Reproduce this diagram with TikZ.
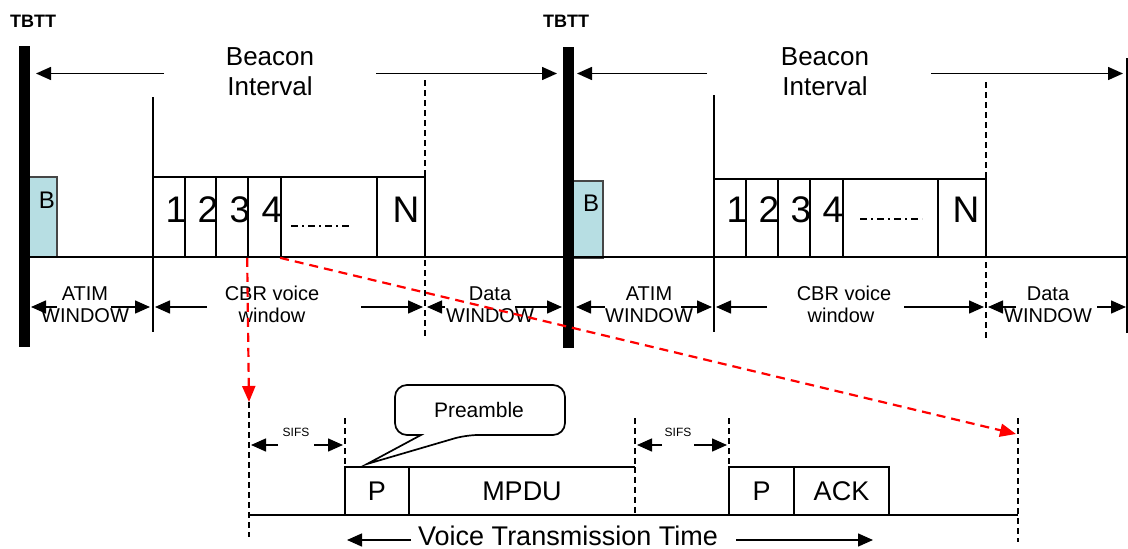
\documentclass[tikz,border=0pt]{standalone}
\usepackage{fontspec}
\setmainfont{Liberation Sans}
\usetikzlibrary{arrows.meta}
\definecolor{bfill}{RGB}{183,222,227}
\definecolor{bedge}{RGB}{70,70,70}
\newcommand\fsz[1]{\fontsize{#1}{#1}\selectfont}
\newcommand\mkbox[7]{\node[#1,minimum width={(#4)-(#3)},minimum height={(#6)-(#5)}] (#2) at ({((#3)+(#4))/2},{((#5)+(#6))/2}) {#7};}
\begin{document}
\begin{tikzpicture}[x=1pt,y=-1pt,
  tipa/.style={-{Triangle[length=15pt,width=13pt]}},
  ln/.style={line width=1.5pt},
  dsh/.style={line width=1.4pt,dash pattern=on 6pt off 4pt},
  rdash/.style={draw=red,line width=2.2pt,dash pattern=on 9pt off 6pt,-{Triangle[length=16pt,width=13pt]}},
  box/.style={draw,line width=1.7pt,inner sep=0pt},
  bbox/.style={draw=bedge,fill=bfill,line width=1.3pt,inner sep=0pt},
  barn/.style={fill=black,inner sep=0pt},
  txt/.style={inner sep=0pt,anchor=base},
  big/.style={font=\fsz{26}},
  lab/.style={font=\fsz{20}},
  dig/.style={font=\fsz{37}},
  low/.style={font=\fsz{27}},
  tbtt/.style={font=\fsz{18}\bfseries},
]
\useasboundingbox (0,0) rectangle (1128,549);

% ---------- beacon boxes
\mkbox{bbox}{b1}{26}{57}{177}{257}{}
\mkbox{bbox}{b2}{570}{603}{181}{258}{}
\node[txt,font=\fsz{24}] (bt1) at (47,208) {B};
\node[txt,font=\fsz{24}] (bt2) at (591,211) {B};

% ---------- slot boxes, set 1
\mkbox{box}{s11}{153}{185}{177}{257}{}
\mkbox{box}{s12}{185}{216}{177}{257}{}
\mkbox{box}{s13}{216}{248}{177}{257}{}
\mkbox{box}{s14}{248}{281}{177}{257}{}
\mkbox{box}{s15}{281}{377}{177}{257}{}
\mkbox{box}{s16}{377}{425}{177}{257}{}
\node[txt,dig] (d11) at (176,222) {1};
\node[txt,dig] (d12) at (208,222) {2};
\node[txt,dig] (d13) at (240,222) {3};
\node[txt,dig] (d14) at (272,222) {4};
\node[txt,dig] (d1n) at (406,222) {N};
\draw[line width=1.3pt,dash pattern=on 7pt off 4pt on 2pt off 4pt] (291,226) -- (350,226);

% ---------- slot boxes, set 2
\mkbox{box}{s21}{714}{746}{179}{257}{}
\mkbox{box}{s22}{746}{778}{179}{257}{}
\mkbox{box}{s23}{778}{810}{179}{257}{}
\mkbox{box}{s24}{810}{843}{179}{257}{}
\mkbox{box}{s25}{843}{938}{179}{257}{}
\mkbox{box}{s26}{938}{986}{179}{257}{}
\node[txt,dig] (d21) at (737,222) {1};
\node[txt,dig] (d22) at (769,222) {2};
\node[txt,dig] (d23) at (801,222) {3};
\node[txt,dig] (d24) at (833,222) {4};
\node[txt,dig] (d2n) at (966,222) {N};
\draw[line width=1.3pt,dash pattern=on 7pt off 4pt on 2pt off 4pt] (860,219) -- (922,219);

% ---------- time line and separators
\draw[line width=2pt] (30,257) -- (1128,257);
\draw[ln] (153,97) -- (153,332);
\draw[ln] (714,95) -- (714,332);
\draw[dsh] (425,80) -- (425,337);
\draw[dsh] (986,82) -- (986,340);
\draw[ln] (1127,58) -- (1127,333);

% ---------- TBTT bars
\mkbox{barn}{bar1}{19}{30}{46}{347}{}
\mkbox{barn}{bar2}{563}{574}{47}{348}{}
\node[txt,tbtt] (tb1) at (33,27) {TBTT};
\node[txt,tbtt] (tb2) at (566,27) {TBTT};

% ---------- Beacon Interval
\node[txt,big] (bi1a) at (270,65) {Beacon};
\node[txt,big] (bi1b) at (270,95) {Interval};
\node[txt,big] (bi2a) at (825,65) {Beacon};
\node[txt,big] (bi2b) at (825,95) {Interval};
\draw[ln,tipa] (164,73.5) -- (36,73.5);
\draw[ln,tipa] (376,73.5) -- (557,73.5);
\draw[ln,tipa] (707,73.5) -- (577,73.5);
\draw[ln,tipa] (931,73.5) -- (1123,73.5);

% ---------- window labels, set 1
\node[txt,lab] (at1) at (85,300) {ATIM};
\node[txt,lab] (aw1) at (85,322) {WINDOW};
\node[txt,lab] (cv1) at (272,300) {CBR voice};
\node[txt,lab] (cw1) at (272,322) {window};
\node[txt,lab] (dt1) at (490,300) {Data};
\node[txt,lab] (dw1) at (490,322) {WINDOW};
\draw[ln,tipa] (57,307) -- (31,307);
\draw[ln,tipa] (111,307) -- (150,307);
\draw[ln,tipa] (207,307) -- (155,307);
\draw[ln,tipa] (361,307) -- (423,307);
\draw[ln,tipa] (445,307) -- (427,307);
\draw[ln,tipa] (515,307) -- (562,307);

% ---------- window labels, set 2
\node[txt,lab] (at2) at (649,300) {ATIM};
\node[txt,lab] (aw2) at (649,322) {WINDOW};
\node[txt,lab] (cv2) at (844,300) {CBR voice};
\node[txt,lab] (cw2) at (841,322) {window};
\node[txt,lab] (dt2) at (1048,300) {Data};
\node[txt,lab] (dw2) at (1048,322) {WINDOW};
\draw[ln,tipa] (605,307) -- (576,307);
\draw[ln,tipa] (681,307) -- (712,307);
\draw[ln,tipa] (767,307) -- (716,307);
\draw[ln,tipa] (904,307) -- (984,307);
\draw[ln,tipa] (1016,307) -- (988,307);
\draw[ln,tipa] (1097,307) -- (1126,307);

% ---------- lower detail
\coordinate (v0t) at (249,402);
\coordinate (v0b) at (249,537);
\coordinate (v4t) at (1018,418);
\coordinate (v4b) at (1018,542);
\draw[dsh] (v0t) -- (v0b);
\draw[dsh] (v4t) -- (v4b);
\draw[dsh] (345,418) -- (345,467);
\draw[dsh] (635,418) -- (635,467);
\draw[dsh] (729,418) -- (729,467);

\mkbox{box,low}{p1}{345}{409}{467}{515}{P}
\mkbox{low,inner sep=0pt}{mpdu}{409}{635}{467}{515}{MPDU}
\draw[line width=1.7pt] (mpdu.north east) -- (mpdu.north west) -- (mpdu.south west) -- (mpdu.south east);
\draw[dsh,line width=1.7pt] (mpdu.north east) -- (mpdu.south east);
\mkbox{box,low}{p2}{729}{794}{467}{515}{P}
\mkbox{box,low}{ack}{794}{889}{467}{515}{ACK}
\draw[line width=2pt] (249,515) -- (1018,515);

\node[txt,font=\fsz{12}] (sifs1) at (296,436) {SIFS};
\node[txt,font=\fsz{12}] (sifs2) at (678,436) {SIFS};
\draw[ln,tipa] (278,445) -- (251,445);
\draw[ln,tipa] (314,445) -- (343,445);
\draw[ln,tipa] (662,445) -- (637,445);
\draw[ln,tipa] (694,445) -- (727,445);

\node[txt,low] (vtt) at (568,545) {Voice Transmission Time};
\draw[ln,tipa] (411,540) -- (347,540);
\draw[ln,tipa] (736,540) -- (873,540);

% ---------- callout
\draw[line width=1.7pt,fill=white,rounded corners=12pt] (421,435) -- (395,435) -- (395,385) -- (565,385) -- (565,435) -- (466,435) [sharp corners] -- (367,464) -- cycle;
\node[txt,font=\fsz{21}] (pre) at (479,417) {Preamble};

% ---------- red zoom lines
\draw[rdash] (s14.south west) -- (v0t);
\draw[rdash] (s15.south west) -- (1016,434);
\end{tikzpicture}
\end{document}
